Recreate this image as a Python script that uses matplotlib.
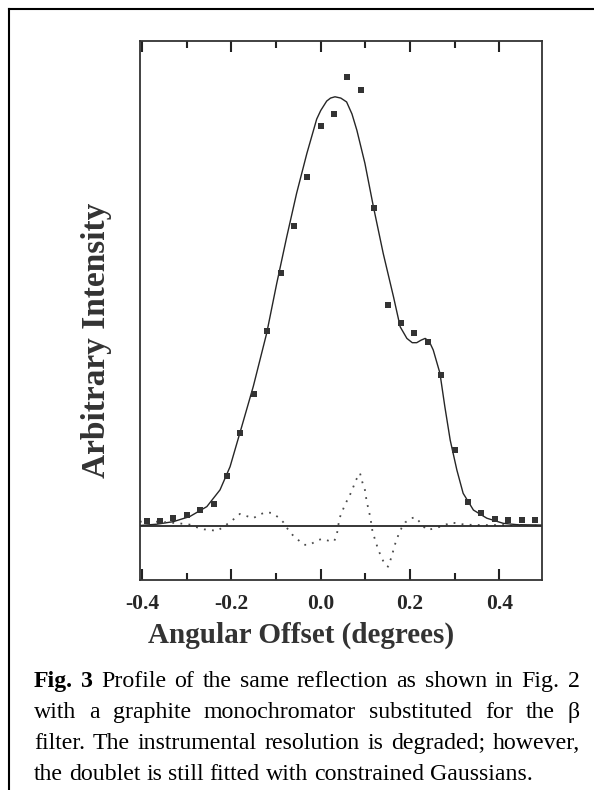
import matplotlib
matplotlib.use("Agg")
import matplotlib.pyplot as plt
from matplotlib.lines import Line2D

plt.rcParams['font.family'] = ['Liberation Serif', 'DejaVu Serif']

# measured points (squares)
obs_x = [-0.39, -0.36, -0.33, -0.30, -0.27, -0.24, -0.21, -0.18, -0.15, -0.12,
         -0.09, -0.06, -0.03, 0.00, 0.03, 0.06, 0.09, 0.12, 0.15, 0.18,
         0.21, 0.24, 0.27, 0.30, 0.33, 0.36, 0.39, 0.42, 0.45, 0.48]
obs_y = [0.012, 0.012, 0.018, 0.025, 0.038, 0.050, 0.117, 0.217, 0.307, 0.455,
         0.589, 0.699, 0.814, 0.932, 0.960, 1.046, 1.016, 0.740, 0.515, 0.472,
         0.449, 0.428, 0.352, 0.178, 0.055, 0.030, 0.016, 0.013, 0.013, 0.013]

# fitted profile (solid line)
fit_x = [-0.405, -0.367, -0.330, -0.293, -0.255, -0.2255, -0.203, -0.177, -0.151, -0.121,
         -0.0985, -0.076, -0.054, -0.031, -0.009, 0.000, 0.0134, 0.022, 0.032, 0.045,
         0.058, 0.070, 0.081, 0.099, 0.118, 0.140, 0.163, 0.178, 0.193, 0.205,
         0.215, 0.225, 0.234, 0.243, 0.252, 0.267, 0.278, 0.290, 0.305, 0.319,
         0.342, 0.372, 0.409, 0.439, 0.495]
fit_y = [0.001, 0.004, 0.010, 0.022, 0.045, 0.084, 0.138, 0.231, 0.325, 0.449,
         0.565, 0.674, 0.775, 0.868, 0.948, 0.968, 0.990, 0.997, 1.000, 0.997,
         0.988, 0.960, 0.922, 0.845, 0.744, 0.635, 0.534, 0.464, 0.437, 0.427,
         0.427, 0.433, 0.437, 0.430, 0.410, 0.356, 0.278, 0.200, 0.130, 0.076,
         0.037, 0.018, 0.006, 0.003, 0.002]

# residual (dotted line)
res_x = [-0.405, -0.369, -0.338, -0.308, -0.293, -0.278, -0.261, -0.248, -0.233, -0.222,
         -0.207, -0.192, -0.181, -0.166, -0.151, -0.138, -0.123, -0.108, -0.095, -0.084,
         -0.074, -0.063, -0.050, -0.037, -0.024, -0.009, 0.004, 0.019, 0.030, 0.036,
         0.042, 0.048, 0.054, 0.062, 0.069, 0.079, 0.088, 0.094, 0.099, 0.103,
         0.109, 0.112, 0.116, 0.122, 0.129, 0.137, 0.144, 0.151, 0.159, 0.166,
         0.174, 0.181, 0.189, 0.202, 0.213, 0.224, 0.237, 0.250, 0.267, 0.293,
         0.323, 0.357, 0.402, 0.446, 0.495]
res_y = [0.010, 0.010, 0.008, 0.005, 0.003, -0.003, -0.008, -0.009, -0.012, -0.005,
         0.006, 0.018, 0.028, 0.023, 0.018, 0.026, 0.032, 0.030, 0.020, 0.009,
         -0.007, -0.021, -0.033, -0.044, -0.044, -0.034, -0.030, -0.035, -0.036, -0.021,
         0.018, 0.033, 0.049, 0.065, 0.080, 0.107, 0.123, 0.099, 0.084, 0.057,
         0.030, 0.014, -0.013, -0.033, -0.056, -0.075, -0.091, -0.095, -0.071, -0.044,
         -0.021, -0.005, 0.008, 0.018, 0.020, 0.006, -0.009, -0.007, -0.002, 0.008,
         0.003, 0.002, 0.002, 0.002, 0.002]

xticks = [-0.4, -0.2, 0.0, 0.2, 0.4]
xtick_labels = ['-0.4', '-0.2', '0.0', '0.2', '0.4']
minor_ticks = [-0.3, -0.1, 0.1, 0.3]

caption = [
    [('Fig.', 'bold'), ('3', 'bold'), ('Profile', 'normal'), ('of', 'normal'), ('the', 'normal'),
     ('same', 'normal'), ('reflection', 'normal'), ('as', 'normal'), ('shown', 'normal'),
     ('in', 'normal'), ('Fig.', 'normal'), ('2', 'normal')],
    [(w, 'normal') for w in 'with a graphite monochromator substituted for the \u03b2'.split()],
    [(w, 'normal') for w in 'filter. The instrumental resolution is degraded; however,'.split()],
    [(w, 'normal') for w in 'the doublet is still fitted with constrained Gaussians.'.split()],
]

W, H = 594, 790
ink = '#262626'

fig = plt.figure(figsize=(W / 100, H / 100), dpi=100)
ax = fig.add_axes([140 / W, 1 - 580 / H, (542 - 140) / W, (580 - 41) / H])

ax.plot(fit_x, fit_y, color=ink, lw=1.0)
ax.plot(res_x, res_y, color='#4a4a4a', lw=1.3, linestyle=(0, (1, 3.5)))
ax.axhline(0, color=ink, lw=1.3)
ax.plot(obs_x, obs_y, 's', color='#333333', ms=4.7, mew=0)

ax.set_xlim(-0.4047, 0.4956)
ax.set_ylim(-0.126, 1.130)
ax.set_xticks(xticks)
ax.set_xticks(minor_ticks, minor=True)
ax.set_xticklabels(xtick_labels, fontsize=15.5, fontweight='bold', color=ink)
ax.set_yticks([])
ax.tick_params(axis='x', which='both', direction='in', top=True, bottom=True,
               color='#222222', width=1.5)
ax.tick_params(axis='x', which='major', length=8, pad=10)
ax.tick_params(axis='x', which='minor', length=5)

for s in ax.spines.values():
    s.set_linewidth(1.3)
    s.set_color('#333333')

fig.text(301 / W, 1 - 643 / H, 'Angular Offset (degrees)', fontsize=21, fontweight='bold',
         color='#333333', ha='center', va='baseline')
fig.text(96 / W, 1 - 340 / H, 'Arbitrary Intensity', fontsize=24, fontweight='bold',
         color='#333333', ha='center', va='center', rotation=90)

# outer frame (top and left edges)
fig.add_artist(Line2D([9 / W, 9 / W], [1 - 9 / H, 0], transform=fig.transFigure, color='k', lw=1.5))
fig.add_artist(Line2D([9 / W, 1], [1 - 9 / H, 1 - 9 / H], transform=fig.transFigure, color='k', lw=1.5))

# justified caption
renderer = fig.canvas.get_renderer()
left, right = 34, 580
fs = 17.2
baselines = [687, 718, 749, 780]
for i, words in enumerate(caption):
    texts = []
    widths = []
    for w, wt in words:
        t = fig.text(0, 1 - baselines[i] / H, w, fontsize=fs, fontweight=wt, color='black',
                     ha='left', va='baseline')
        texts.append(t)
        widths.append(t.get_window_extent(renderer).width)
    if i < len(caption) - 1:
        gap = (right - left - sum(widths)) / (len(words) - 1)
    else:
        gap = 0.25 * fs * 100 / 72
    x = left
    for t, wd in zip(texts, widths):
        t.set_x(x / W)
        x += wd + gap

fig.savefig('out.png', dpi=100)
